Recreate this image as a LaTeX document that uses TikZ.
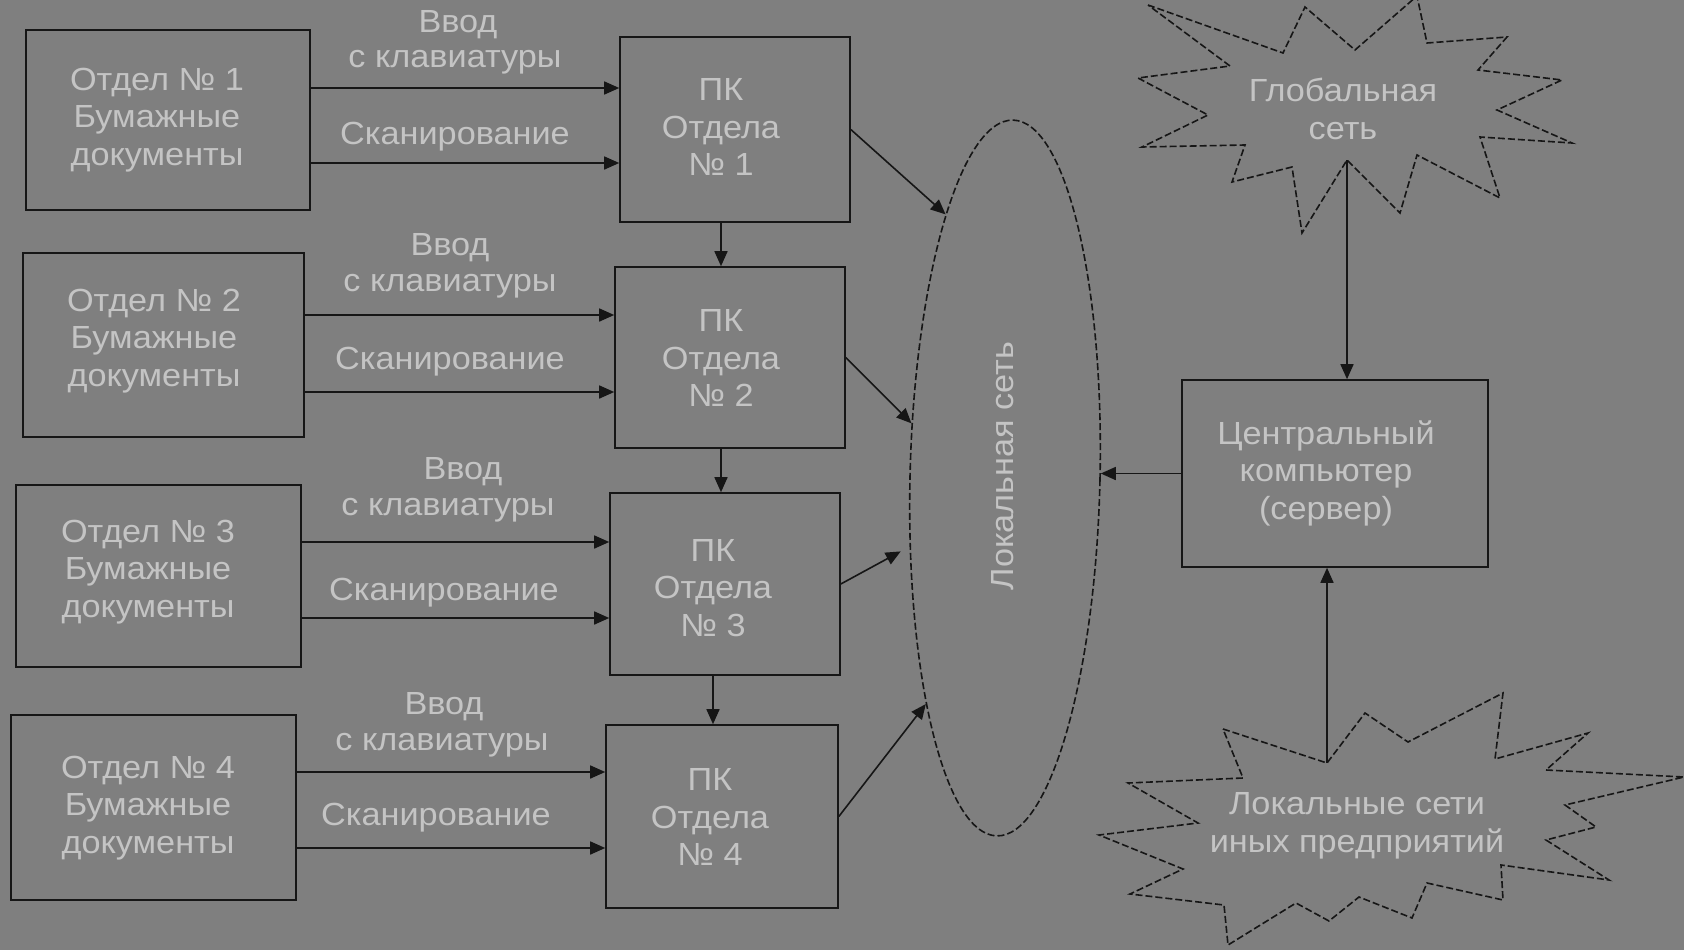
\documentclass[tikz,border=0pt]{standalone}
\usepackage{fontspec}
\setmainfont[FakeStretch=1.07]{Liberation Sans}
\usetikzlibrary{arrows.meta,shapes.geometric}
\definecolor{bg}{HTML}{7F7F7F}
\definecolor{ink}{HTML}{161616}
\definecolor{txt}{HTML}{C4C4C4}
\begin{document}
\begin{tikzpicture}[x=1pt,y=-1pt,
  font=\fontsize{32}{37.5}\selectfont,
  box/.style={draw=ink, line width=1.6pt, rectangle, inner sep=0pt},
  lbl/.style={align=center, inner sep=0pt, text=txt},
  arr/.style={draw=ink, line width=1.6pt, -{Triangle[length=15pt,width=13pt]}},
  dsh/.style={draw=ink, line width=1.6pt, dash pattern=on 7pt off 3pt},
]
% page
\fill[bg] (0,0) rectangle (1684,950);
\useasboundingbox (0,0) rectangle (1684,950);

% department boxes
\node[box, minimum width=284pt, minimum height=180pt] (d1) at (168,120) {};
\node[box, minimum width=281pt, minimum height=184pt] (d2) at (163.5,345) {};
\node[box, minimum width=285pt, minimum height=182pt] (d3) at (158.5,576) {};
\node[box, minimum width=285pt, minimum height=185pt] (d4) at (153.5,807.5) {};
\node[lbl] (d1t) at (157,120) {Отдел № 1\\Бумажные\\документы};
\node[lbl] (d2t) at (154,341) {Отдел № 2\\Бумажные\\документы};
\node[lbl] (d3t) at (148,572) {Отдел № 3\\Бумажные\\документы};
\node[lbl] (d4t) at (148,808) {Отдел № 4\\Бумажные\\документы};

% department PCs
\node[box, minimum width=230pt, minimum height=185pt] (pc1) at (735,129.5) {};
\node[box, minimum width=230pt, minimum height=181pt] (pc2) at (730,357.5) {};
\node[box, minimum width=230pt, minimum height=182pt] (pc3) at (725,584) {};
\node[box, minimum width=232pt, minimum height=183pt] (pc4) at (722,816.5) {};
\node[lbl] (pc1t) at (721,127) {ПК\\Отдела\\№ 1};
\node[lbl] (pc2t) at (721,358) {ПК\\Отдела\\№ 2};
\node[lbl] (pc3t) at (713,588) {ПК\\Отдела\\№ 3};
\node[lbl] (pc4t) at (710,817) {ПК\\Отдела\\№ 4};

% input labels
\node[lbl] (in1a) at (458,25) {Ввод};
\node[lbl] (in1b) at (455,62) {с клавиатуры};
\node[lbl] (sc1) at (455,137) {Сканирование};
\node[lbl] (in2a) at (450,248) {Ввод};
\node[lbl] (in2b) at (450,286) {с клавиатуры};
\node[lbl] (sc2) at (450,362) {Сканирование};
\node[lbl] (in3a) at (463,472) {Ввод};
\node[lbl] (in3b) at (448,510) {с клавиатуры};
\node[lbl] (sc3) at (444,593) {Сканирование};
\node[lbl] (in4a) at (444,707) {Ввод};
\node[lbl] (in4b) at (442,745) {с клавиатуры};
\node[lbl] (sc4) at (436,818) {Сканирование};

% heights of the input arrows
\coordinate (k1) at (0,88);  \coordinate (s1) at (0,163);
\coordinate (k2) at (0,315); \coordinate (s2) at (0,392);
\coordinate (k3) at (0,542); \coordinate (s3) at (0,618);
\coordinate (k4) at (0,772); \coordinate (s4) at (0,848);
\foreach \i in {1,2,3,4}{
  \draw[arr] (d\i.east |- k\i) -- (pc\i.west |- k\i);
  \draw[arr] (d\i.east |- s\i) -- (pc\i.west |- s\i);
}

% chain between PCs
\draw[arr] (pc1t |- pc1.south) -- (pc1t |- pc2.north);
\draw[arr] (pc2t |- pc2.south) -- (pc2t |- pc3.north);
\draw[arr] (pc3t |- pc3.south) -- (pc3t |- pc4.north);

% local network
\node[dsh, ellipse, minimum width=190pt, minimum height=716pt, inner sep=0pt, rotate=-1.3] (lan) at (1005,478) {};
\node[lbl, rotate=90] (lant) at (1003,466) {Локальная сеть};
\draw[arr] (pc1.east) -- (lan.104);
\draw[arr] (pc2.east) -- (lan.151);
\draw[arr, shorten >=10pt] (pc3.east) -- (lan.217);
\draw[arr] (pc4.east) -- (lan.252);

% server
\node[box, minimum width=306pt, minimum height=187pt] (srv) at (1335,473.5) {};
\node[lbl] (srvt) at (1326,473) {Центральный\\компьютер\\(сервер)};
\draw[arr] (srv.west) -- (srv.west -| lan.east);

% global network burst
\draw[dsh] (1148,5) -- (1283,53) -- (1305,7) -- (1355,50) -- (1417,-4) -- (1427,43)
  -- (1507,37) -- (1478,70) -- (1562,80) -- (1497,110) -- (1572,143) -- (1480,137)
  -- (1500,198) -- (1417,155) -- (1400,213) -- (1347,160) -- (1302,233) -- (1292,167)
  -- (1232,182) -- (1245,145) -- (1142,147) -- (1208,115) -- (1138,78) -- (1230,66) -- cycle;
\coordinate (gdrop) at (1347,160);
\node[lbl] (glob) at (1343,109) {Глобальная\\сеть};
\draw[arr] (gdrop) -- (gdrop |- srv.north);

% other companies' networks burst
\draw[dsh] (1223,729) -- (1327,763) -- (1365,713) -- (1408,742) -- (1503,693) -- (1495,759)
  -- (1588,733) -- (1546,770) -- (1684,777) -- (1565,805) -- (1596,827) -- (1546,840)
  -- (1609,880) -- (1501,865) -- (1503,900) -- (1427,883) -- (1412,918) -- (1359,897)
  -- (1329,921) -- (1296,903) -- (1228,945) -- (1224,905) -- (1130,894) -- (1183,869)
  -- (1099,835) -- (1198,823) -- (1128,783) -- (1243,778) -- cycle;
\coordinate (lrise) at (1327,763);
\node[lbl] (other) at (1357,826) {Локальные сети\\иных предприятий};
\draw[arr] (lrise) -- (lrise |- srv.south);
\end{tikzpicture}
\end{document}
